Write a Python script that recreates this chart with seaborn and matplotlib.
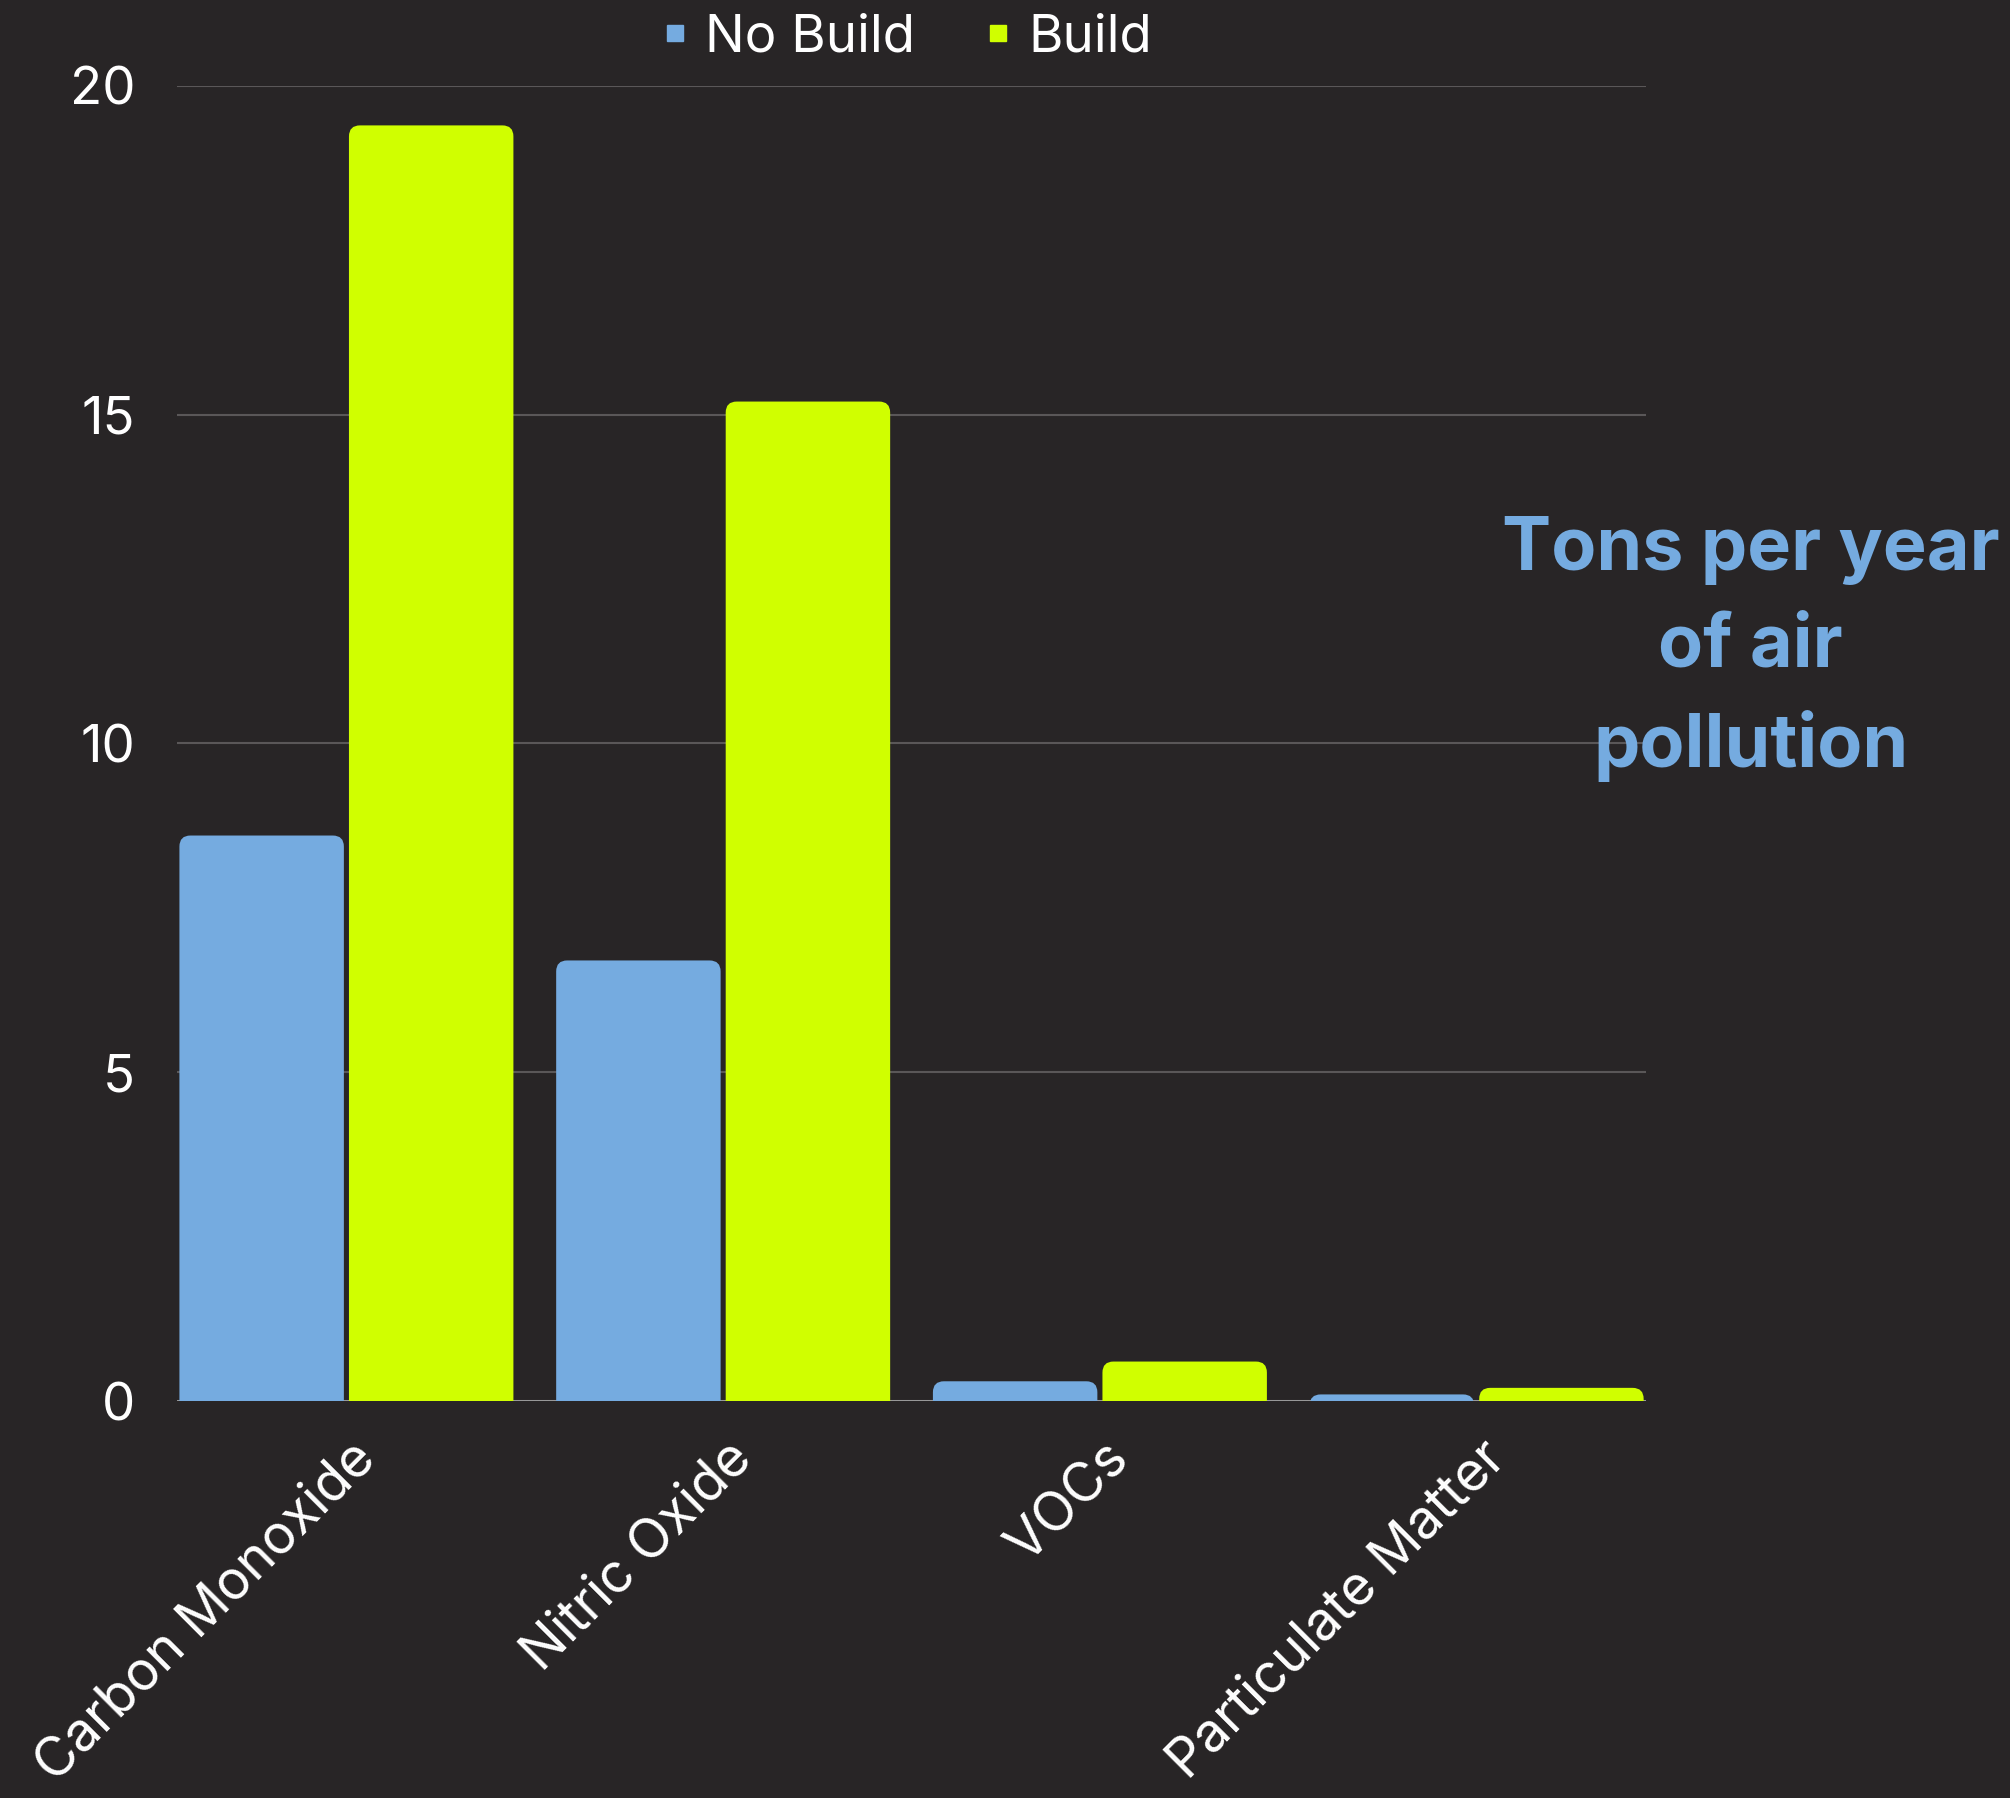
import matplotlib
matplotlib.use("Agg")
import matplotlib.pyplot as plt
import matplotlib.transforms as mtransforms
from matplotlib.patches import FancyBboxPatch
from matplotlib.lines import Line2D
import seaborn as sns
import pandas as pd

# data
pollutants = ["Carbon Monoxide", "Nitric Oxide", "VOCs", "Particulate Matter"]
no_build = [8.6, 6.7, 0.3, 0.1]
build = [19.4, 15.2, 0.6, 0.2]
series = ["No Build", "Build"]
yticks = [0, 5, 10, 15, 20]

bg = "#282526"
blue = "#75abe0"
green = "#d0ff00"

df = pd.DataFrame({
    "pollutant": pollutants * 2,
    "tons": no_build + build,
    "scenario": [series[0]] * len(pollutants) + [series[1]] * len(pollutants),
})

sns.set_theme(style="dark")
plt.rcParams["font.family"] = ["Inter", "DejaVu Sans"]

fig = plt.figure(figsize=(20.1, 17.98), dpi=100, facecolor=bg)
ax = fig.add_axes([0.088, 0.2208, 0.731, 0.7314])
ax.set_facecolor(bg)

sns.barplot(data=df, x="pollutant", y="tons", hue="scenario", hue_order=series,
            palette=[blue, green], width=0.9, gap=0.03, saturation=1,
            legend=False, ax=ax)

ax.set_xlim(-0.45, len(pollutants) - 0.55)
ax.set_ylim(0, 20)

# rounded tops: swap each bar for a rounded box that starts below zero (clipped)
px_x = ax.transData.transform((1, 0))[0] - ax.transData.transform((0, 0))[0]
px_y = ax.transData.transform((0, 1))[1] - ax.transData.transform((0, 0))[1]
r = 11
rx, ry = r / px_x, r / px_y
for p in list(ax.patches):
    x, w, h = p.get_x(), p.get_width(), p.get_height()
    fc = p.get_facecolor()
    p.remove()
    box = FancyBboxPatch((x, -ry), w, h + ry,
                         boxstyle=f"round,pad=0,rounding_size={rx}",
                         mutation_aspect=ry / rx, fc=fc, ec="none", zorder=2)
    ax.add_patch(box)

ax.set_yticks(yticks)
ax.yaxis.grid(True, color="#5a5758", lw=1.5)
ax.xaxis.grid(False)
ax.set_axisbelow(True)
ax.axhline(0, color="#a0a0a0", lw=2, zorder=1.5)
for s in ax.spines.values():
    s.set_visible(False)

ax.set_xlabel("")
ax.set_ylabel("")
ax.tick_params(axis="y", length=0, colors="white", labelsize=38, pad=30)
ax.tick_params(axis="x", length=0, colors="white", labelsize=39)
ax.set_xticks(range(len(pollutants)))
ax.set_xticklabels(pollutants, rotation=45, ha="right", va="center",
                   rotation_mode="anchor")
shift = mtransforms.ScaledTranslation(15 / 72, -32 / 72, fig.dpi_scale_trans)
for lab in ax.get_xticklabels():
    lab.set_transform(lab.get_transform() + shift)

handles = [Line2D([], [], marker="s", ls="none", color=c, markersize=11)
           for c in [blue, green]]
fig.legend(handles, series, loc="center", bbox_to_anchor=(0.451, 0.979),
           ncol=2, frameon=False, fontsize=38, handlelength=0.55,
           handletextpad=0.3, columnspacing=1.3, labelcolor="white")

fig.text(0.871, 0.639, "Tons per year\nof air\npollution", ha="center",
         va="center", fontsize=53, fontweight="bold", color=blue,
         linespacing=1.5)

fig.savefig("out.png", dpi=100, facecolor=bg)
